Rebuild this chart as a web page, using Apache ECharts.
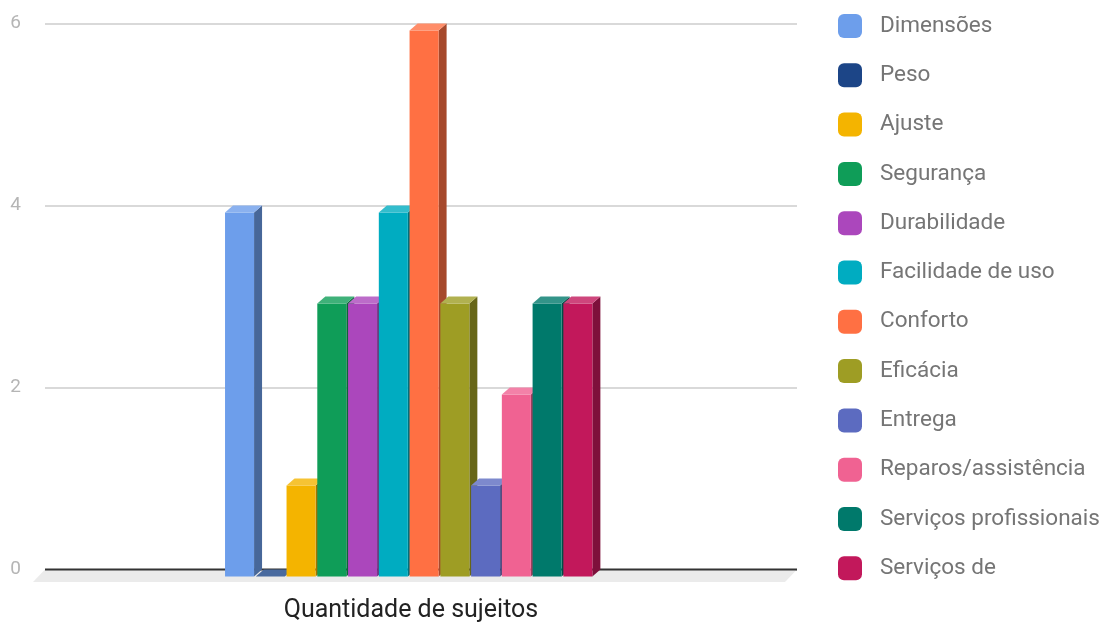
<!DOCTYPE html>
<html>
<head>
<meta charset="utf-8">
<script src="https://cdn.jsdelivr.net/npm/echarts@6/dist/echarts.min.js"></script>
<style>
  html, body { margin: 0; padding: 0; background: #fff; }
  #chart { width: 1103px; height: 625px; }
</style>
</head>
<body>
<div id="chart"></div>
<script>
// Category on the x axis and the twelve answer groups
const categories = ['Quantidade de sujeitos'];
const seriesNames = [
  'Dimensões', 'Peso', 'Ajuste', 'Segurança', 'Durabilidade', 'Facilidade de uso',
  'Conforto', 'Eficácia', 'Entrega', 'Reparos/assistência', 'Serviços profissionais', 'Serviços de'
];
const seriesValues = [4, 0, 1, 3, 3, 4, 6, 3, 1, 2, 3, 3];
const seriesColors = [
  '#6d9eeb', '#1c4587', '#f4b400', '#0f9d58', '#ab47bc', '#00acc1',
  '#ff7043', '#9e9d24', '#5c6bc0', '#f06292', '#00796b', '#c2185b'
];
const yTicks = [0, 2, 4, 6];

const FONT = 'Roboto, "Noto Sans", sans-serif';
const DEPTH_X = 8, DEPTH_Y = 7;        // bar depth (front face shift)
const FLOOR_X = 12, FLOOR_Y = 12.5;    // floor depth

function shade(hex, f) {
  const n = parseInt(hex.slice(1), 16);
  const r = (n >> 16) & 255, g = (n >> 8) & 255, b = n & 255;
  const c = v => Math.round(f < 0 ? v * (1 + f) : v + (255 - v) * f);
  return 'rgb(' + c(r) + ',' + c(g) + ',' + c(b) + ')';
}

// 3D-looking column: front face, right side face and top face
function renderBar(params, api) {
  const i = api.value(2);
  const val = api.value(1);
  const center = api.coord([0, 0])[0];
  const band = api.size([1, 0])[0];
  const step = band * 0.0409;
  const w = band * 0.0386;
  const left = center - band * 0.2606 + i * step;
  const yBase = api.coord([0, 0])[1] + DEPTH_Y;
  const yTop = api.coord([0, val])[1] + DEPTH_Y;
  const color = seriesColors[i];
  const right = left + w;
  return {
    type: 'group',
    children: [
      { type: 'polygon', shape: { points: [[right, yTop], [right + DEPTH_X, yTop - DEPTH_Y], [right + DEPTH_X, yBase - DEPTH_Y], [right, yBase]] },
        style: { fill: shade(color, -0.35) } },
      { type: 'rect', shape: { x: left, y: yTop, width: w, height: yBase - yTop },
        style: { fill: color } },
      { type: 'polygon', shape: { points: [[left, yTop], [left + DEPTH_X, yTop - DEPTH_Y], [right + DEPTH_X, yTop - DEPTH_Y], [right, yTop]] },
        style: { fill: shade(color, 0.2) } }
    ]
  };
}

// Floor slab and the dark zero line
function renderFloor(params, api) {
  const cs = params.coordSys;
  const y0 = api.coord([0, 0])[1];
  const x1 = cs.x, x2 = cs.x + cs.width;
  return {
    type: 'group',
    children: [
      { type: 'polygon', shape: { points: [[x1, y0], [x2, y0], [x2 - FLOOR_X, y0 + FLOOR_Y], [x1 - FLOOR_X, y0 + FLOOR_Y]] },
        style: { fill: '#ebebeb' } },
      { type: 'line', shape: { x1: x1, y1: y0, x2: x2, y2: y0 },
        style: { stroke: '#333333', lineWidth: 2 } }
    ]
  };
}

const series = [{
  type: 'custom',
  name: '__floor',
  renderItem: renderFloor,
  data: [[0, 0]],
  silent: true,
  z: 1
}];
seriesNames.forEach((name, i) => {
  series.push({
    type: 'custom',
    name: name,
    renderItem: renderBar,
    itemStyle: { color: seriesColors[i] },
    encode: { x: 0, y: 1 },
    data: [[0, seriesValues[i], i]],
    z: 2
  });
});

const chart = echarts.init(document.getElementById('chart'), null, { renderer: 'canvas' });
chart.setOption({
  animation: false,
  backgroundColor: '#ffffff',
  grid: { left: 45, right: 306, top: 23.5, bottom: 55.5, containLabel: false },
  xAxis: {
    type: 'category',
    data: categories,
    axisLine: { show: false },
    axisTick: { show: false },
    axisLabel: { color: '#222222', fontSize: 25, fontFamily: FONT, margin: 29, padding: [0, 20, 0, 0] },
    splitLine: { show: false }
  },
  yAxis: {
    type: 'value',
    min: yTicks[0],
    max: yTicks[yTicks.length - 1],
    interval: 2,
    axisLine: { show: false },
    axisTick: { show: false },
    axisLabel: { color: '#b5b5b5', fontSize: 19, fontFamily: FONT, margin: 24, padding: [3, 0, 0, 0] },
    splitLine: { lineStyle: { color: '#cccccc', width: 1.5 } }
  },
  legend: {
    orient: 'vertical',
    left: 833,
    top: 9,
    data: seriesNames,
    icon: 'roundRect',
    itemWidth: 24,
    itemHeight: 24,
    itemGap: 25.3,
    selectedMode: false,
    textStyle: { color: '#757575', fontSize: 22.5, fontFamily: FONT, padding: [0, 0, 0, 13] }
  },
  series: series
});
</script>
</body>
</html>
